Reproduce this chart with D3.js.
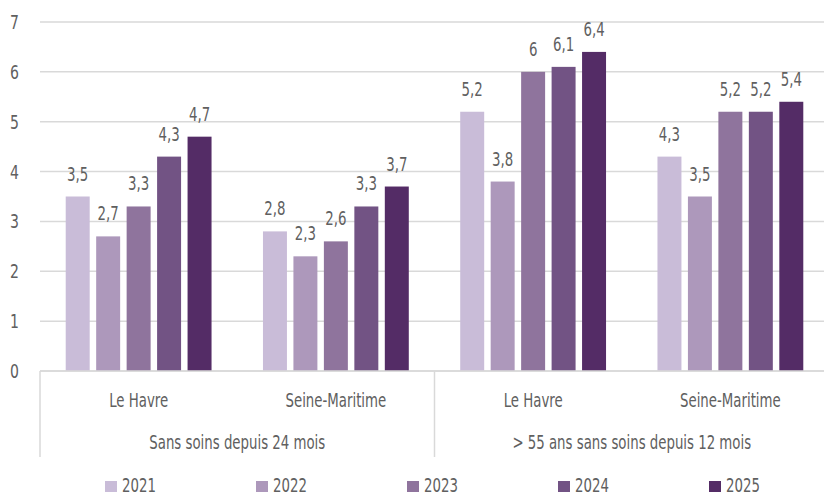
<!DOCTYPE html>
<html>
<head>
<meta charset="utf-8">
<script src="https://cdn.jsdelivr.net/npm/d3@7"></script>
<style>
  body { margin: 0; background: #fff; }
  text { font-family: "DejaVu Sans Condensed", "Liberation Sans Narrow", sans-serif; fill: #606060; }
</style>
</head>
<body>
<div id="chart"></div>
<script>
// data
var groups = ["Sans soins depuis 24 mois", "> 55 ans sans soins depuis 12 mois"];
var places = ["Le Havre", "Seine-Maritime"];
var years = ["2021", "2022", "2023", "2024", "2025"];
var yTicks = [0, 1, 2, 3, 4, 5, 6, 7];
var colors = ["#c9bcd8", "#ad98bb", "#8f749d", "#725384", "#542c66"];
// one row per category (group x place), one value per year
var values = [
  [3.5, 2.7, 3.3, 4.3, 4.7],
  [2.8, 2.3, 2.6, 3.3, 3.7],
  [5.2, 3.8, 6.0, 6.1, 6.4],
  [4.3, 3.5, 5.2, 5.2, 5.4]
];

var width = 824, height = 497;
var gridColor = "#d9d9d9";
var squeeze = 0.78; // reference uses a condensed face

// place a text at (x,y) and narrow it horizontally
function place(sel, fx, fy) {
  sel.attr("transform", function(d, i) {
    return "translate(" + fx(d, i) + "," + fy(d, i) + ") scale(" + squeeze + ",1)";
  });
}

var svg = d3.select("#chart").append("svg")
  .attr("width", width)
  .attr("height", height);

// categories
var cats = [];
groups.forEach(function(g, gi) {
  places.forEach(function(p, pi) {
    cats.push({ group: g, place: p, values: values[gi * places.length + pi] });
  });
});

var x0 = d3.scaleBand()
  .domain(d3.range(cats.length))
  .range([40, 829]);

var x1 = d3.scaleBand()
  .domain(years)
  .range([0, x0.bandwidth()])
  .paddingInner(0.213)
  .paddingOuter(0.844);

var y = d3.scaleLinear()
  .domain([0, 7])
  .range([371, 22]);

// gridlines
svg.append("g").selectAll("line")
  .data(yTicks)
  .enter().append("line")
  .attr("x1", 40).attr("x2", width)
  .attr("y1", function(d) { return y(d); })
  .attr("y2", function(d) { return y(d); })
  .style("stroke", gridColor)
  .style("stroke-width", 1.5);

// y tick labels
svg.append("g").selectAll("text")
  .data(yTicks)
  .enter().append("text")
  .attr("text-anchor", "end")
  .style("font-size", "20px")
  .call(place, function() { return 19; }, function(d) { return y(d) + 7; })
  .text(function(d) { return d; });

// bars
var catG = svg.selectAll(".cat")
  .data(cats)
  .enter().append("g")
  .attr("class", "cat")
  .attr("transform", function(d, i) { return "translate(" + x0(i) + ",0)"; });

catG.selectAll("rect")
  .data(function(d) { return d.values.map(function(v, i) { return { year: years[i], value: v, i: i }; }); })
  .enter().append("rect")
  .attr("x", function(d) { return x1(d.year); })
  .attr("y", function(d) { return y(d.value); })
  .attr("width", x1.bandwidth())
  .attr("height", function(d) { return y(0) - y(d.value); })
  .style("fill", function(d) { return colors[d.i]; });

catG.selectAll(".val")
  .data(function(d) { return d.values.map(function(v, i) { return { year: years[i], value: v }; }); })
  .enter().append("text")
  .attr("class", "val")
  .attr("text-anchor", "middle")
  .style("font-size", "19px")
  .call(place, function(d) { return x1(d.year) + x1.bandwidth() / 2; }, function(d) { return y(d.value) - 16; })
  .text(function(d) { return String(d.value).replace(".", ","); });

// category axis box
var axisG = svg.append("g");
axisG.append("line")
  .attr("x1", 40).attr("x2", width)
  .attr("y1", y(0)).attr("y2", y(0))
  .style("stroke", gridColor).style("stroke-width", 1.5);

var seps = d3.range(groups.length + 1).map(function(i) { return x0.range()[0] + i * places.length * x0.step(); });
axisG.selectAll(".sep")
  .data(seps)
  .enter().append("line")
  .attr("x1", function(d) { return d; })
  .attr("x2", function(d) { return d; })
  .attr("y1", y(0)).attr("y2", 457)
  .style("stroke", gridColor).style("stroke-width", 1.5);

axisG.selectAll(".place")
  .data(cats)
  .enter().append("text")
  .attr("text-anchor", "middle")
  .style("font-size", "19px")
  .call(place, function(d, i) { return x0(i) + x0.bandwidth() / 2; }, function() { return 407; })
  .text(function(d) { return d.place; });

axisG.selectAll(".group")
  .data(groups)
  .enter().append("text")
  .attr("text-anchor", "middle")
  .style("font-size", "19px")
  .call(place, function(d, i) { return seps[i] + (seps[i + 1] - seps[i]) / 2; }, function() { return 449; })
  .text(function(d) { return d; });

// legend
var legend = svg.append("g").selectAll("g")
  .data(years)
  .enter().append("g")
  .attr("transform", function(d, i) { return "translate(" + (105 + i * 151) + ",0)"; });

legend.append("rect")
  .attr("y", 481)
  .attr("width", 12)
  .attr("height", 11)
  .style("fill", function(d, i) { return colors[i]; });

legend.append("text")
  .style("font-size", "19px")
  .call(place, function() { return 17; }, function() { return 492; })
  .text(function(d) { return d; });
</script>
</body>
</html>
